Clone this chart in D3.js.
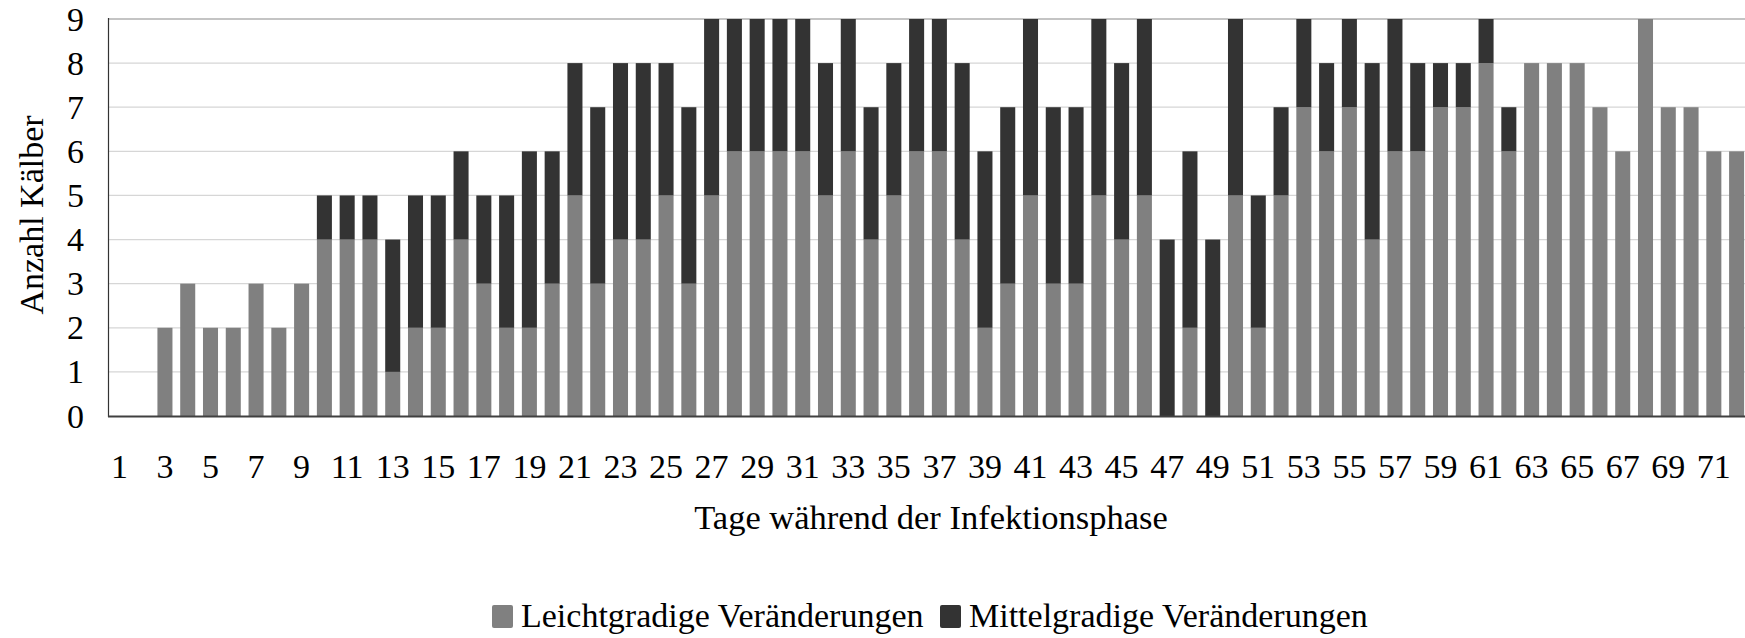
<!DOCTYPE html>
<html>
<head>
<meta charset="utf-8">
<script src="https://cdn.jsdelivr.net/npm/d3@7"></script>
<style>
  html, body { margin: 0; padding: 0; background: #ffffff; font-family: "Liberation Serif", "Times New Roman", Tinos, "DejaVu Serif", serif; }
  svg { display: block; }
</style>
</head>
<body>
<svg id="chart" width="1745" height="638" font-family="Liberation Serif, Times New Roman, Tinos, DejaVu Serif, serif"></svg>
<script>
// ---- data ----
const days = d3.range(1, 73);
const leicht = [0,0,2,3,2,2,3,2,3,4,4,4,1,2,2,4,3,2,2,3,5,3,4,4,5,3,5,6,6,6,6,5,6,4,5,6,6,4,2,3,5,3,3,5,4,5,0,2,0,5,2,5,7,6,7,4,6,6,7,7,8,6,8,8,8,7,6,9,7,7,6,6];
const mittel = [0,0,0,0,0,0,0,0,0,1,1,1,3,3,3,2,2,3,4,3,3,4,4,4,3,4,4,3,3,3,3,3,3,3,3,3,3,4,4,4,4,4,4,4,4,4,4,4,4,4,3,2,2,2,2,4,3,2,1,1,1,1,0,0,0,0,0,0,0,0,0,0];
const yTicks = [0,1,2,3,4,5,6,7,8,9];
const xTickLabels = days.filter(d => d % 2 === 1);
const seriesNames = ["Leichtgradige Veränderungen", "Mittelgradige Veränderungen"];
const seriesColors = ["#808080", "#333333"];
const FONT = '"Liberation Serif", "Times New Roman", Tinos, "DejaVu Serif", serif';

// ---- layout ----
const svg = d3.select("#chart");
const x = d3.scaleBand().domain(days).range([108, 1748]).paddingInner(0.34).paddingOuter(0.17);
const y = d3.scaleLinear().domain([0, 9]).range([416, 19]);

// gridlines
svg.append("g").selectAll("line").data(yTicks.filter(t => t > 0)).join("line")
  .attr("x1", 109).attr("x2", 1745)
  .attr("y1", d => y(d)).attr("y2", d => y(d))
  .attr("stroke", d => d === 9 ? "#c4c4c4" : "#d6d6d6")
  .attr("stroke-width", d => d === 9 ? 2 : 1.2);

// stacked bars
const table = days.map((d, i) => ({day: d, leicht: leicht[i], mittel: mittel[i]}));
const stack = d3.stack().keys(["leicht", "mittel"])(table);
svg.append("g").selectAll("g").data(stack).join("g")
  .attr("fill", (s, i) => seriesColors[i])
  .selectAll("rect").data(s => s.filter(p => p[1] > p[0])).join("rect")
  .attr("x", p => x(p.data.day))
  .attr("width", x.bandwidth())
  .attr("y", p => y(p[1]))
  .attr("height", p => y(p[0]) - y(p[1]));

// axes lines
svg.append("line").attr("x1", 108.5).attr("x2", 108.5).attr("y1", 18).attr("y2", 417)
  .attr("stroke", "#333").attr("stroke-width", 1.2);
svg.append("line").attr("x1", 108).attr("x2", 1745).attr("y1", 416.5).attr("y2", 416.5)
  .attr("stroke", "#404040").attr("stroke-width", 2);

function txt(sel, size) {
  return sel.style("font-family", FONT).style("font-size", size + "px").attr("fill", "#000");
}

// y tick labels
txt(svg.append("g").selectAll("text").data(yTicks).join("text")
  .attr("x", 84).attr("y", d => y(d)).attr("dy", "0.34em")
  .attr("text-anchor", "end"), 34)
  .text(d => d);

// x tick labels
txt(svg.append("g").selectAll("text").data(xTickLabels).join("text")
  .attr("x", d => x(d) + x.bandwidth() / 2).attr("y", 478)
  .attr("text-anchor", "middle"), 34)
  .text(d => d);

// axis titles
txt(svg.append("text").attr("transform", "translate(43,215) rotate(-90)")
  .attr("text-anchor", "middle"), 34).text("Anzahl Kälber");
txt(svg.append("text").attr("x", 931).attr("y", 529)
  .attr("text-anchor", "middle"), 34.5).text("Tage während der Infektionsphase");

// legend
const legendX = [492, 940];
const lg = svg.append("g").selectAll("g").data(seriesNames).join("g")
  .attr("transform", (d, i) => `translate(${legendX[i]},0)`);
lg.append("rect").attr("x", 0).attr("y", 605).attr("width", 21).attr("height", 23)
  .attr("rx", 2).attr("fill", (d, i) => seriesColors[i]);
txt(lg.append("text").attr("x", 29).attr("y", 627), 34).text(d => d);
</script>
</body>
</html>
